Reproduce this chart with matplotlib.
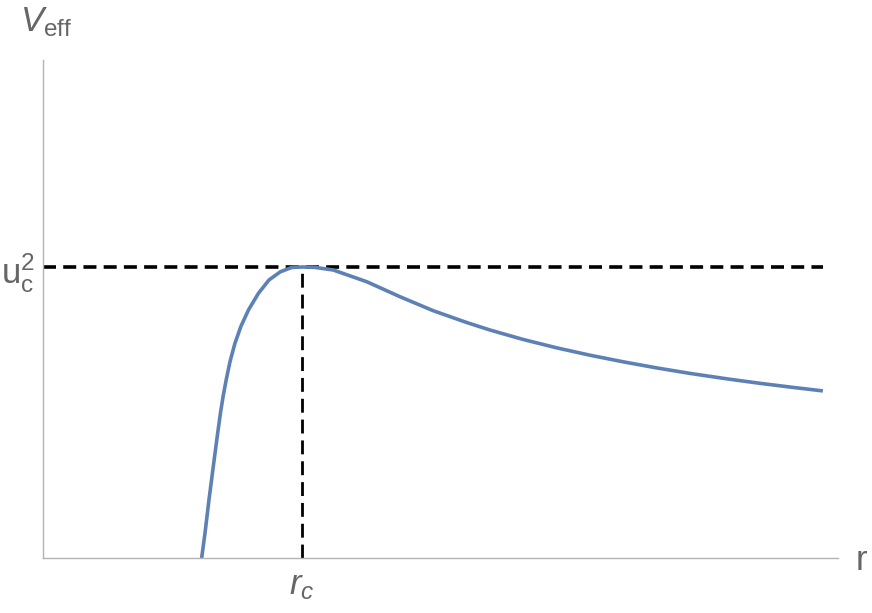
import matplotlib.pyplot as plt

plt.rcParams['mathtext.fontset'] = 'custom'
plt.rcParams['mathtext.rm'] = 'Liberation Sans'
plt.rcParams['mathtext.it'] = 'Liberation Sans:italic'
plt.rcParams['font.family'] = ['Liberation Sans', 'DejaVu Sans']

# values (r in units of r_c, V in units of u_c^2)
r = [0.6127, 0.6255, 0.6409, 0.6575, 0.6745, 0.6853, 0.6958, 0.7085,
     0.7228, 0.7413, 0.7637, 0.7934, 0.8320, 0.8726, 0.9170, 0.9606,
     1.0, 1.0502, 1.1208, 1.2498, 1.3784, 1.5069, 1.6359, 1.7259,
     1.8544, 1.9834, 2.1120, 2.2405, 2.3695, 2.4981, 2.6398, 2.7683,
     2.8958, 3.0116]
v_eff = [0.0, 0.0849, 0.1993, 0.3137, 0.4285, 0.4983, 0.5567, 0.6168,
         0.6770, 0.7378, 0.7948, 0.8522, 0.9096, 0.9553, 0.9838, 0.9983,
         1.0, 0.9986, 0.9897, 0.9495, 0.8979, 0.8498, 0.8093, 0.7835,
         0.7509, 0.7223, 0.6969, 0.6742, 0.6533, 0.6344, 0.6158, 0.6003,
         0.5863, 0.5742]
r_c = 1.0
u_c2 = 1.0
x_max = 3.07
y_max = 1.711

grey = '#666666'

fig = plt.figure(figsize=(8.72, 6.13), dpi=100)
ax = fig.add_axes([0.0493, 0.0897, 0.9117, 0.8123])

ax.plot([0, r[-1]], [u_c2, u_c2], color='black', lw=2.6, dashes=(3.6, 2.0))
ax.plot([r_c, r_c], [0, u_c2], color='black', lw=2.0, dashes=(5.0, 2.5))
ax.plot(r, v_eff, color='#5E81B5', lw=2.6, solid_capstyle='butt',
        solid_joinstyle='round')

ax.set_xlim(0, x_max)
ax.set_ylim(0, y_max)

for s in ['top', 'right']:
    ax.spines[s].set_visible(False)
for s in ['left', 'bottom']:
    ax.spines[s].set_color('#b3b3b3')
    ax.spines[s].set_linewidth(1.0)

ax.set_xticks([r_c])
ax.set_xticklabels([r'$r_c$'])
ax.set_yticks([u_c2])
ax.set_yticklabels([r'$\mathrm{u}_\mathrm{c}^2$'])
ax.tick_params(axis='both', length=0, labelsize=25, labelcolor=grey)
ax.tick_params(axis='x', pad=8)
ax.tick_params(axis='y', pad=6)

fig.text(20 / 872, 1 - 22 / 613, r'$V_{\mathrm{eff}}$', fontsize=25,
         color=grey, ha='left', va='center')
fig.text(856 / 872, 1 - 560 / 613, 'r', fontsize=25, color=grey,
         ha='left', va='center')

fig.savefig('out.png', dpi=100)
